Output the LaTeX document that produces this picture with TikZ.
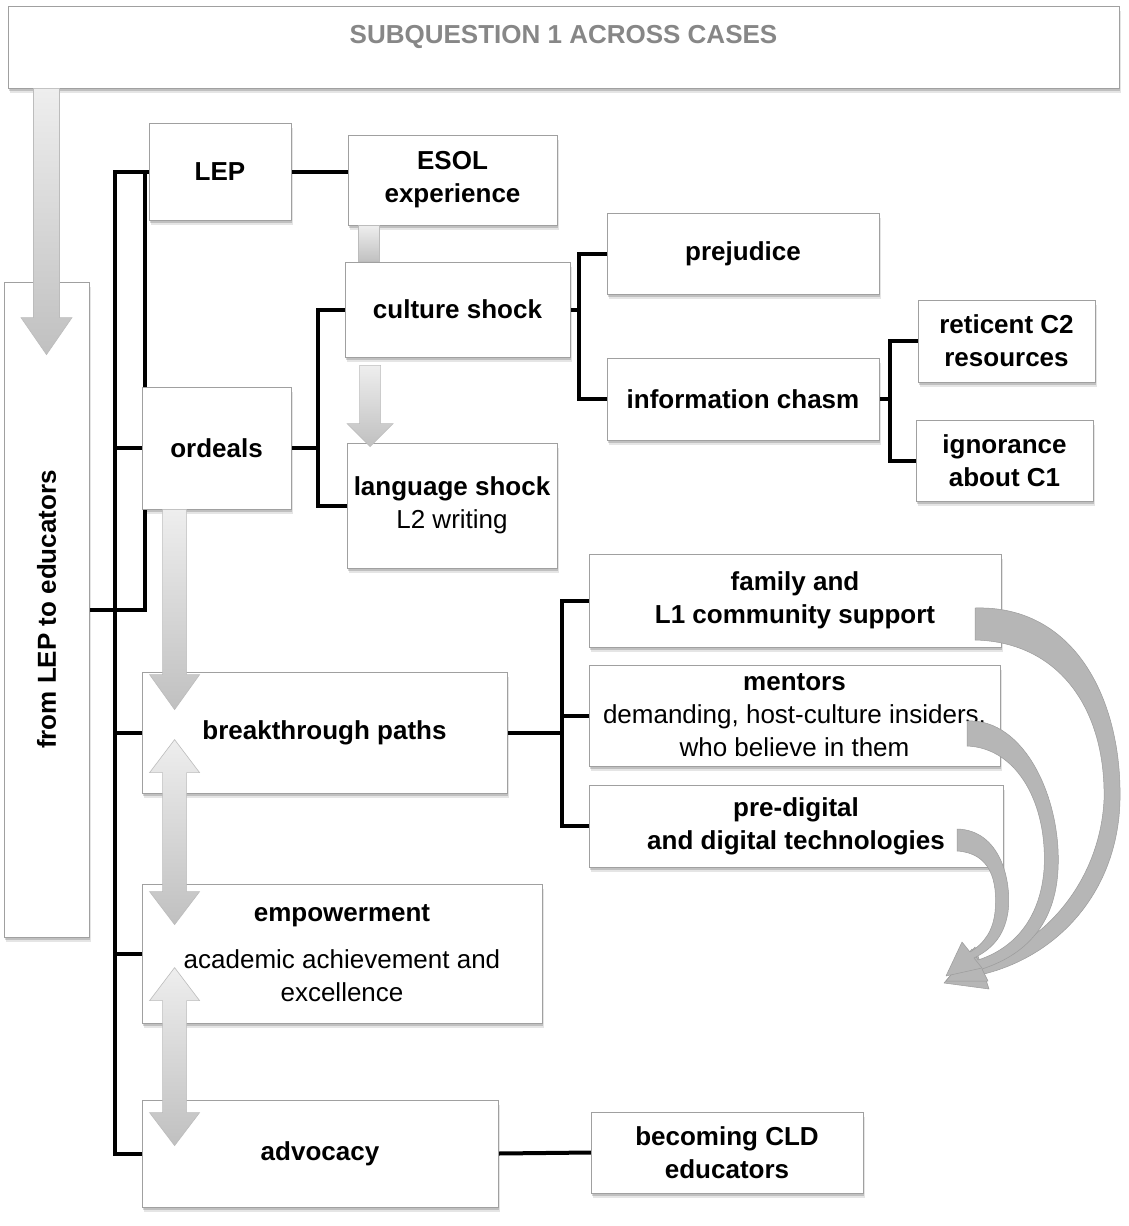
\documentclass[tikz,border=0pt]{standalone}
\usepackage{fontspec}
\setmainfont{Liberation Sans}
\usepackage{graphicx}
\usetikzlibrary{calc}
\pgfdeclarelayer{bg}
\pgfsetlayers{bg,main}

\definecolor{boxline}{RGB}{160,160,160}
\definecolor{titlegray}{RGB}{135,135,135}
\definecolor{arrowtop}{RGB}{238,238,238}
\definecolor{arrowbot}{RGB}{192,192,192}
\definecolor{arrowline}{RGB}{188,188,188}
\definecolor{ribbon}{RGB}{182,182,182}
\definecolor{ribbonedge}{RGB}{155,155,155}

% vertical block arrow: tail point, tip point, shaft half-width, head half-width, head length
\newcommand\downblock[5]{%
  \path[blockarrow] ($(#1)+(-#3,0)$) -- ($(#1)+(#3,0)$) -- ($(#2)+(#3,-#5)$)
    -- ($(#2)+(#4,-#5)$) -- (#2) -- ($(#2)+(-#4,-#5)$) -- ($(#2)+(-#3,-#5)$) -- cycle;}
% vertical double-headed block arrow: upper tip, lower tip, shaft half-width, head half-width, head length
\newcommand\twinblock[5]{%
  \path[blockarrow] (#1) -- ($(#1)+(#4,#5)$) -- ($(#1)+(#3,#5)$) -- ($(#2)+(#3,-#5)$)
    -- ($(#2)+(#4,-#5)$) -- (#2) -- ($(#2)+(-#4,-#5)$) -- ($(#2)+(-#3,-#5)$)
    -- ($(#1)+(-#3,#5)$) -- ($(#1)+(-#4,#5)$) -- cycle;}

\begin{document}
\begin{tikzpicture}[x=1pt,y=-1pt,
  box/.style={draw=boxline, fill=white, line width=0.8pt, inner sep=0pt, align=center,
    font=\fontsize{26}{33}\selectfont\bfseries,
    preaction={fill=black, opacity=0.10, transform canvas={xshift=1.5pt, yshift=-4.5pt}},
    preaction={fill=black, opacity=0.16, transform canvas={xshift=1pt, yshift=-2.5pt}}},
  link/.style={line width=4pt, line cap=rect, line join=miter, black},
  blockarrow/.style={top color=arrowtop, bottom color=arrowbot, draw=arrowline, line width=0.6pt},
  swoosh/.style={fill=ribbon, draw=ribbonedge, line width=0.5pt, line join=round}]

\useasboundingbox (0,0) rectangle (1128,1226);
\begin{pgfonlayer}{bg}
  \fill[white] (0,0) rectangle (1128,1226);
\end{pgfonlayer}

% ---- boxes ----
\node[box, minimum width=1111pt, minimum height=82pt, text height=37pt, text depth=45pt,
      text=titlegray] (title) at (563.5,47) {SUBQUESTION 1 ACROSS CASES};
\node[box, minimum width=85pt, minimum height=655pt] (from) at (46.5,609.5)
  {\rotatebox{90}{from LEP to educators}};
\node[box, minimum width=142pt, minimum height=97pt] (lep) at (220,171.5) {LEP};
\node[box, minimum width=209pt, minimum height=90pt] (esol) at (452.5,180) {ESOL\\experience};
\node[box, minimum width=225pt, minimum height=95pt] (culture) at (457.5,309.5) {culture shock};
\node[box, minimum width=210pt, minimum height=125pt] (lang) at (452,505.5)
  {language shock\\\mdseries L2 writing};
\node[box, minimum width=149pt, minimum height=122pt] (ordeals) at (216.5,448) {ordeals};
\node[box, minimum width=272pt, minimum height=81pt] (prej) at (743,253.5) {prejudice};
\node[box, minimum width=272pt, minimum height=82pt] (info) at (743,399) {information chasm};
\node[box, minimum width=177pt, minimum height=82pt] (ret) at (1006.5,341) {reticent C2\\resources};
\node[box, minimum width=177pt, minimum height=81pt] (ign) at (1004.5,460.5) {ignorance\\about C1};
\node[box, minimum width=365pt, minimum height=121pt] (bt) at (324.5,732.5) {breakthrough paths};
\node[box, minimum width=412pt, minimum height=93pt] (fam) at (795,600.5)
  {family and\\L1 community support};
\node[box, minimum width=411pt, minimum height=101pt] (ment) at (794.5,715.5)
  {mentors\\\mdseries demanding, host-culture insiders,\\\mdseries who believe in them};
\node[box, minimum width=414pt, minimum height=82pt] (digi) at (796,826)
  {pre-digital\\and digital technologies};
\node[box, minimum width=400pt, minimum height=139pt] (emp) at (342,953.5)
  {empowerment\\[14pt]\mdseries academic achievement and\\\mdseries excellence};
\node[box, minimum width=356pt, minimum height=107pt] (adv) at (320,1153.5) {advocacy};
\node[box, minimum width=272pt, minimum height=81pt] (cld) at (727,1152.5) {becoming CLD\\educators};

% ---- tree connectors ----
\coordinate (ja) at (145,0);
\coordinate (jb) at (115,0);
\coordinate (jc) at (318,0);
\coordinate (jd) at (579,0);
\coordinate (je) at (890,0);
\coordinate (jf) at (562,0);
\begin{pgfonlayer}{bg}
  \draw[link] (from.east) -- (from.east -| ja) |- (lep.west);
  \draw[link] (lep.west -| ja) -- (lep.west -| jb) |- (adv.west);
  \draw[link] (ordeals.west -| jb) -- (ordeals.west);
  \draw[link] (bt.west -| jb) -- (bt.west);
  \draw[link] (emp.west -| jb) -- (emp.west);
  \draw[link] (lep.east) -- (lep.east -| esol.west);
  \draw[link] (ordeals.east) -- (ordeals.east -| jc);
  \draw[link] (culture.west) -- (culture.west -| jc) -- (lang.west -| jc) -- (lang.west);
  \draw[link] (culture.east) -- (culture.east -| jd);
  \draw[link] (prej.west) -- (prej.west -| jd) -- (info.west -| jd) -- (info.west);
  \draw[link] (info.east) -- (info.east -| je);
  \draw[link] (ret.west) -- (ret.west -| je) -- (ign.west -| je) -- (ign.west);
  \draw[link] (bt.east) -- (bt.east -| jf);
  \draw[link] (fam.west) -- (fam.west -| jf) -- (digi.west -| jf) -- (digi.west);
  \draw[link] (ment.west -| jf) -- (ment.west);
  \draw[link] (adv.east) -- (cld.west);
\end{pgfonlayer}

% ---- grey block arrows ----
\coordinate (t0) at (title.south -| from.center);
\coordinate (t1) at ($(from.north)+(0,73)$);
\downblock{t0}{t1}{13}{25.5}{37}

\path[blockarrow] ($(esol.south west)+(11,0)$) rectangle ($(culture.north west)+(35,0)$);

\coordinate (c0) at ($(culture.south west)+(25.5,8)$);
\coordinate (c1) at ($(lang.north west)+(23.5,4)$);
\downblock{c0}{c1}{10.5}{23}{23}

\coordinate (o0) at ($(ordeals.south west)+(33,0)$);
\coordinate (o1) at ($(bt.north west)+(33,38)$);
\downblock{o0}{o1}{12}{25}{35}

\coordinate (d0) at ($(bt.north west)+(33,68)$);
\coordinate (d1) at ($(emp.north west)+(33,41)$);
\twinblock{d0}{d1}{12}{25}{33}

\coordinate (e0) at ($(emp.north west)+(33,84)$);
\coordinate (e1) at ($(adv.north west)+(33,46)$);
\twinblock{e0}{e1}{12}{25}{33}

% ---- curved arrows from the three supports ----
\path[swoosh] (975,608) .. controls (1075,605) and (1122,700) .. (1120,800)
  .. controls (1118,890) and (1060,955) .. (984,974)
  -- (989,989) -- (944,983) -- (975,947) -- (980,962)
  .. controls (1045,945) and (1100,880) .. (1104,800)
  .. controls (1106,710) and (1060,642) .. (975,640) -- cycle;
\path[swoosh] (967,721) .. controls (1025,718) and (1062,800) .. (1058,870)
  .. controls (1055,925) and (1025,955) .. (982,969)
  -- (988,981) -- (946,981) -- (972,949) -- (978,960)
  .. controls (1015,948) and (1040,918) .. (1044,870)
  .. controls (1048,805) and (1018,748) .. (967,746) -- cycle;
\path[swoosh] (957,829) .. controls (1000,830) and (1012,880) .. (1008,912)
  .. controls (1004,938) and (990,950) .. (974,958)
  -- (982,968) -- (946,976) -- (962,942) -- (970,952)
  .. controls (985,943) and (993,930) .. (995,912)
  .. controls (998,880) and (990,853) .. (957,851) -- cycle;
\end{tikzpicture}
\end{document}
